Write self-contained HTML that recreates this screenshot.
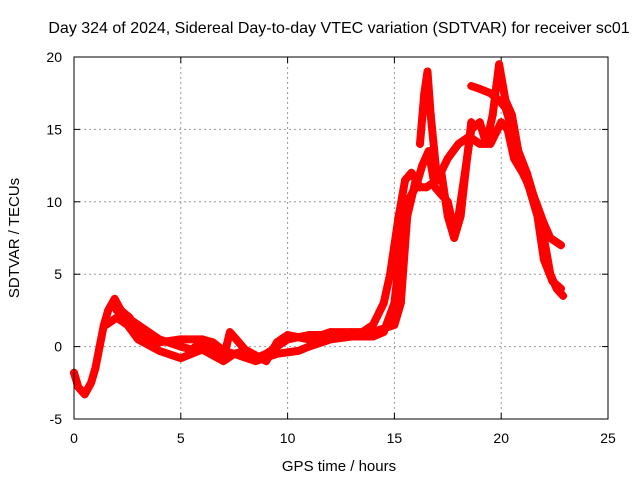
<!DOCTYPE html>
<html><head><meta charset="utf-8"><style>
body{margin:0;background:#fff}
svg{display:block;font-family:"Liberation Sans",sans-serif}
</style></head><body>
<svg id="c" width="640" height="480" xmlns="http://www.w3.org/2000/svg">
<text x="339" y="33" font-size="16" text-anchor="middle">Day 324 of 2024, Sidereal Day-to-day VTEC variation (SDTVAR) for receiver sc01</text>
<text x="339" y="471" font-size="15" text-anchor="middle">GPS time / hours</text>
<text transform="translate(19,238) rotate(-90)" font-size="15" text-anchor="middle">SDTVAR / TECUs</text>
<g id="grid"></g>
<g id="series"></g>
<rect x="74" y="57" width="534" height="362" fill="none" stroke="#000" stroke-width="1"/>
</svg>
<script>
const xTicks=[0,5,10,15,20,25];
const yTicks=[-5,0,5,10,15,20];
const traceA=[[0,-1.8],[0.2,-2.8],[0.5,-3.3],[0.8,-2.5],[1.0,-1.5],[1.2,0],[1.4,1.5],[1.6,2.5],[1.9,3.3],[2.2,2.5],[2.6,2],[3,1],[3.5,0.5],[4,0.3],[5,0.5],[6,0.5],[6.5,0.3],[7,-0.3],[7.5,-0.5],[8,-0.3],[8.5,-0.8],[9,-0.5],[9.5,0],[10,0.5],[11,0.8],[12,0.8],[13,0.8],[13.5,1],[14,1.5],[14.5,3],[14.8,5],[15,7],[15.2,9],[15.5,11.5],[15.8,12],[16.2,11],[16.5,11],[17,11.5],[17.5,13],[18,14],[18.5,14.5],[19,14],[19.5,14],[20,15.5],[20.3,15],[20.6,13],[21,12],[21.5,10.5],[22,8.5],[22.3,7.5],[22.8,7]];
const traceB=[[1.5,1.5],[2,2],[2.5,1.5],[3,0.5],[4,-0.3],[5,-0.8],[6,-0.2],[7,-1],[7.5,-0.5],[8.5,-1],[9.5,-0.5],[10.5,-0.3],[11,0],[12,0.5],[13,0.7],[14,0.7],[14.5,1],[15,3],[15.3,7],[15.6,10],[16,11],[16.3,12.5],[16.6,13.5],[16.9,11],[17.2,10.5],[17.5,10],[17.8,8],[18,9],[18.3,12],[18.6,15],[19,15.5],[19.3,14],[19.6,16],[19.9,19.5],[20.2,17],[20.5,16],[20.8,13.5],[21.2,12],[21.6,10],[22,7.5],[22.3,5],[22.6,4],[22.9,3.5]];
const traceC=[[16.2,14],[16.4,17.5],[16.55,19],[16.7,16],[16.9,13],[17,11.5],[17.2,12],[17.5,9],[17.8,7.5],[18.1,9],[18.4,13],[18.6,15.5]];
const traceD=[[18.6,18],[19,17.8],[19.5,17.5],[19.9,17],[20.2,16.5],[20.5,15],[20.8,13],[21.3,11],[21.7,9],[22,6],[22.4,4.5],[22.8,4]];
const traceE=[[2,2.5],[3,1.5],[4,0.5],[5,0],[5.5,-0.2],[6,0.3],[6.5,0],[7,-0.8],[7.3,1],[7.6,0.5],[8,-0.2],[9,-1],[9.5,0.3],[10,0.8],[11,0.5],[12,1],[13,1],[14,1],[15,1.5],[15.3,3],[15.6,9],[16,11.5]];
const X=v=>74+(v-0)*534/25;
const Y=v=>419-(v+5)*362/25;
const NS='http://www.w3.org/2000/svg';
const grid=document.getElementById('grid');
function mk(t,a,p){const e=document.createElementNS(NS,t);for(const k in a)e.setAttribute(k,a[k]);p.appendChild(e);return e;}
xTicks.forEach(t=>{
  if(t>0&&t<25){const l=mk('line',{x1:X(t),x2:X(t),y1:57,y2:419,stroke:'#999','stroke-dasharray':'2,3'},grid);
  
  }
  const k=mk('line',{x1:X(t),x2:X(t),y1:419,y2:413,stroke:'#000'},grid);
  
  
  const k2=mk('line',{x1:X(t),x2:X(t),y1:57,y2:63,stroke:'#000'},grid);
  
  
  const tx=mk('text',{x:X(t),y:443,'font-size':14,'text-anchor':'middle'},grid);tx.textContent=t;
  
  
});
yTicks.forEach(t=>{
  if(t>-5&&t<20){const l=mk('line',{x1:74,x2:608,y1:Y(t),y2:Y(t),stroke:'#999','stroke-dasharray':'2,3'},grid);
  
  }
  const k=mk('line',{x1:74,x2:80,y1:Y(t),y2:Y(t),stroke:'#000'},grid);
  
  
  const k2=mk('line',{x1:602,x2:608,y1:Y(t),y2:Y(t),stroke:'#000'},grid);
  
  
  const tx=mk('text',{x:62,y:Y(t)+5,'font-size':14,'text-anchor':'end'},grid);tx.textContent=t;
  
  
});
const sg=document.getElementById('series');
[traceA,traceB,traceC,traceD,traceE].forEach((tr,i)=>{
  const d=tr.map((p,j)=>(j?'L':'M')+X(p[0]).toFixed(1)+','+Y(p[1]).toFixed(1)).join('');
  const pa=mk('path',{d:d,fill:'none',stroke:'#f00','stroke-width':8,'stroke-linejoin':'round','stroke-linecap':'round'},sg);
  
  
  tr.forEach(p=>{
    const m=mk('path',{d:`M${X(p[0])-4},${Y(p[1])}h8M${X(p[0])},${Y(p[1])-4}v8`,stroke:'#f00','stroke-width':1.5},sg);
    
    
  });
});
</script>
</body></html>
